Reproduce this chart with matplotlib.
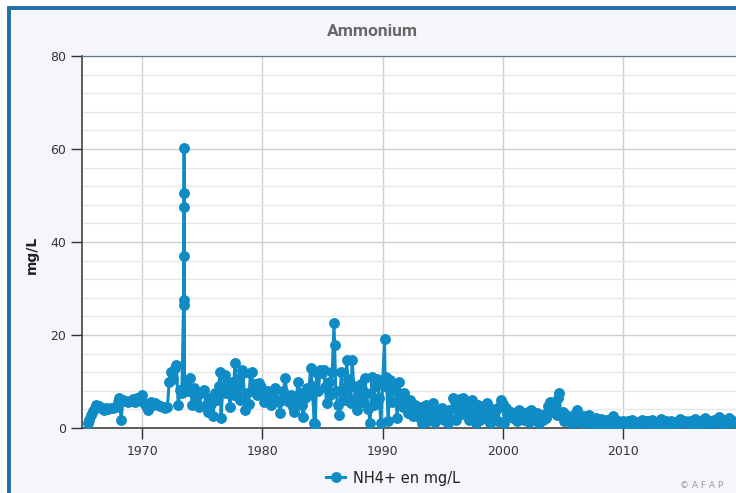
import matplotlib
matplotlib.use("Agg")
import matplotlib.pyplot as plt
from matplotlib.patches import Rectangle
from matplotlib.ticker import MultipleLocator

# NH4+ samples (decimal year, mg/L)
dates_1965 = [1965.5, 1965.6, 1965.75, 1965.9, 1966.05, 1966.2, 1966.4, 1966.6, 1966.8, 1967.0,
              1967.2, 1967.4, 1967.6, 1967.8, 1968.0, 1968.1, 1968.25, 1968.4, 1968.6, 1968.8,
              1969.0, 1969.2, 1969.4, 1969.6, 1969.8, 1970.0, 1970.15, 1970.3, 1970.5, 1970.7,
              1970.9, 1971.1, 1971.3, 1971.5, 1971.7, 1971.9, 1972.1, 1972.25, 1972.4, 1972.55,
              1972.7, 1972.85, 1973.0, 1973.15, 1973.3, 1973.44, 1973.45, 1973.46, 1973.47, 1973.48,
              1973.49, 1973.52, 1973.7, 1973.85, 1974.0, 1974.15, 1974.3, 1974.45, 1974.6, 1974.75,
              1974.9]
vals_1965 = [1.0, 1.8, 2.8, 3.6, 4.3, 5.0, 4.8, 4.2, 3.9, 4.3,
             4.1, 4.4, 4.2, 4.6, 5.5, 6.4, 1.7, 6.0, 5.9, 5.6,
             5.8, 6.2, 5.5, 6.4, 6.0, 7.1, 5.4, 4.8, 3.9, 5.6,
             5.0, 5.3, 4.9, 4.8, 4.5, 4.4, 4.6, 10.0, 12.0, 10.5,
             13.0, 13.5, 4.9, 8.2, 7.5, 26.5, 27.5, 37.0, 47.5, 50.5,
             60.2, 8.5, 9.0, 8.0, 10.8, 5.0, 8.5, 6.0, 7.8, 4.5,
             7.6]

dates_1975 = [1975.15, 1975.3, 1975.45, 1975.6, 1975.75, 1975.9, 1976.05, 1976.2, 1976.35, 1976.5,
              1976.55, 1976.7, 1976.85, 1977.0, 1977.15, 1977.3, 1977.45, 1977.6, 1977.7, 1977.85,
              1978.0, 1978.15, 1978.3, 1978.4, 1978.55, 1978.7, 1978.85, 1979.0, 1979.1, 1979.25,
              1979.4, 1979.55, 1979.7, 1979.85, 1980.0, 1980.15, 1980.3, 1980.45, 1980.6, 1980.75,
              1980.9, 1981.05, 1981.2, 1981.35, 1981.45, 1981.6, 1981.75, 1981.9, 1982.05, 1982.2,
              1982.35, 1982.5, 1982.65, 1982.8, 1982.95, 1983.1, 1983.25, 1983.4, 1983.55, 1983.7,
              1983.85, 1984.0, 1984.15, 1984.3, 1984.4, 1984.5, 1984.65, 1984.8, 1984.95]
vals_1975 = [8.2, 5.0, 3.4, 6.5, 5.2, 2.5, 7.5, 6.0, 9.0, 12.0,
             2.2, 8.0, 11.5, 7.5, 9.5, 4.5, 10.0, 7.0, 14.0, 10.5,
             8.8, 6.0, 12.5, 11.8, 3.9, 7.5, 5.2, 11.8, 12.0, 8.2,
             9.5, 7.0, 9.7, 8.8, 7.0, 5.5, 6.7, 8.0, 6.2, 5.0,
             7.5, 8.6, 6.0, 5.5, 3.2, 6.0, 8.0, 10.8, 6.4, 5.5,
             7.2, 4.5, 3.5, 6.0, 9.9, 7.5, 5.0, 2.4, 6.5, 8.5,
             7.0, 12.9, 9.0, 1.1, 0.8, 11.8, 8.0, 12.5, 11.8]

dates_1985 = [1985.1, 1985.2, 1985.35, 1985.5, 1985.65, 1985.8, 1985.95, 1986.0, 1986.1, 1986.25,
              1986.4, 1986.55, 1986.7, 1986.85, 1987.0, 1987.1, 1987.25, 1987.35, 1987.45, 1987.6,
              1987.75, 1987.9, 1988.05, 1988.2, 1988.35, 1988.5, 1988.65, 1988.8, 1988.95, 1989.1,
              1989.25, 1989.4, 1989.55, 1989.7, 1989.85, 1990.0, 1990.15, 1990.2, 1990.3, 1990.45,
              1990.6, 1990.75, 1990.9, 1991.05, 1991.2, 1991.35, 1991.5, 1991.65, 1991.8, 1991.95,
              1992.1, 1992.25, 1992.4, 1992.55, 1992.7, 1992.85, 1993.0, 1993.15, 1993.3, 1993.45,
              1993.6, 1993.75, 1993.9, 1994.05, 1994.2, 1994.35, 1994.5, 1994.65, 1994.8]
vals_1985 = [12.5, 8.8, 5.4, 10.0, 7.0, 12.0, 22.5, 17.8, 8.0, 5.0,
             2.8, 12.0, 8.0, 6.0, 14.6, 10.5, 6.0, 5.4, 14.6, 9.0,
             6.5, 3.9, 7.0, 9.5, 5.5, 10.8, 7.5, 4.0, 1.1, 11.0,
             5.0, 9.0, 10.5, 6.5, 1.1, 10.3, 19.1, 9.0, 11.0, 1.5,
             10.3, 5.5, 9.5, 8.2, 2.2, 10.0, 6.0, 4.5, 7.5, 5.4,
             3.2, 6.0, 4.5, 2.5, 5.0, 3.9, 2.4, 4.5, 1.0, 3.5,
             5.0, 1.5, 4.0, 2.5, 5.3, 1.2, 3.5, 3.9, 2.4]

dates_1995 = [1994.95, 1995.1, 1995.25, 1995.4, 1995.55, 1995.7, 1995.85, 1996.0, 1996.1, 1996.25,
              1996.4, 1996.55, 1996.7, 1996.85, 1997.0, 1997.15, 1997.3, 1997.45, 1997.6, 1997.75,
              1997.9, 1998.05, 1998.2, 1998.35, 1998.5, 1998.65, 1998.8, 1998.95, 1999.1, 1999.25,
              1999.4, 1999.55, 1999.7, 1999.85, 2000.0, 2000.1, 2000.25, 2000.4, 2000.55, 2000.7,
              2000.85, 2001.0, 2001.15, 2001.3, 2001.45, 2001.6, 2001.75, 2001.9, 2002.05, 2002.2,
              2002.35, 2002.5, 2002.65, 2002.8, 2002.95, 2003.1, 2003.3, 2003.45, 2003.6, 2003.75,
              2003.9, 2004.05, 2004.2, 2004.3, 2004.45, 2004.6, 2004.65, 2004.8, 2004.95, 2005.1,
              2005.25, 2005.4, 2005.55, 2005.7, 2005.85, 2006.0, 2006.15, 2006.3, 2006.45, 2006.6]
vals_1995 = [4.3, 1.7, 3.0, 1.0, 3.8, 2.0, 6.4, 5.5, 1.7, 4.0,
             6.2, 3.0, 6.4, 3.9, 5.5, 1.7, 4.2, 6.0, 3.5, 1.0,
             5.0, 1.7, 3.8, 4.5, 2.4, 5.4, 3.0, 1.0, 4.0, 2.5,
             3.8, 1.5, 4.5, 6.0, 5.2, 1.1, 4.3, 3.5, 2.8, 3.4,
             2.2, 3.0, 1.5, 3.9, 2.2, 3.2, 1.7, 2.5, 3.5, 1.2,
             3.9, 2.2, 1.7, 3.2, 1.0, 2.6, 1.7, 3.0, 2.2, 4.8,
             5.6, 3.5, 5.0, 4.5, 2.8, 6.5, 7.5, 3.0, 3.4, 1.5,
             2.8, 2.2, 1.2, 2.5, 1.0, 3.0, 3.9, 2.0, 1.5, 1.1]

dates_2006 = [2006.75, 2006.95, 2007.15, 2007.35, 2007.55, 2007.75, 2007.95, 2008.15, 2008.35, 2008.55,
              2008.75, 2008.95, 2009.15, 2009.35, 2009.55, 2009.75, 2009.95, 2010.15, 2010.35, 2010.55,
              2010.75, 2010.95, 2011.15, 2011.35, 2011.55, 2011.75, 2011.95, 2012.15, 2012.35, 2012.55,
              2012.75, 2012.95, 2013.15, 2013.35, 2013.55, 2013.75, 2013.95, 2014.15, 2014.35, 2014.55,
              2014.75, 2014.95, 2015.15, 2015.35, 2015.55, 2015.75, 2015.95, 2016.15, 2016.35, 2016.55,
              2016.75, 2016.95, 2017.15, 2017.35, 2017.55, 2017.75, 2017.95, 2018.15, 2018.35, 2018.55,
              2018.75, 2018.95, 2019.15, 2019.35, 2019.55]
vals_2006 = [2.5, 1.0, 2.8, 1.5, 0.6, 2.2, 1.0, 2.0, 0.8, 1.8,
             1.2, 0.6, 2.5, 1.0, 1.5, 0.7, 1.6, 1.0, 1.4, 0.8,
             1.7, 1.1, 1.3, 0.8, 1.8, 1.2, 1.5, 0.9, 1.7, 1.0,
             1.2, 0.8, 1.9, 1.1, 1.4, 0.7, 1.6, 1.0, 1.3, 0.8,
             2.0, 1.2, 1.5, 0.9, 1.6, 1.1, 2.0, 0.8, 1.4, 1.0,
             2.1, 1.1, 1.5, 0.8, 1.8, 1.2, 2.3, 1.0, 1.7, 0.9,
             2.2, 1.2, 1.6, 1.0, 1.4]

dates = dates_1965 + dates_1975 + dates_1985 + dates_1995 + dates_2006
nh4 = vals_1965 + vals_1975 + vals_1985 + vals_1995 + vals_2006

year_ticks = [1970, 1980, 1990, 2000, 2010]
series_name = "NH4+ en mg/L"
blue = "#0f8bc6"

W, H = 736, 493
fig = plt.figure(figsize=(W / 100, H / 100), dpi=100)
fig.patch.set_facecolor("white")

# light panel with the blue frame on top / left (behind the axes)
fig.patches.append(Rectangle((8.5 / W, -0.05), 1.1, 1.05 - 8.5 / H, transform=fig.transFigure,
                             facecolor="#f4f6fa", edgecolor="#1f6ea6", lw=2.8, zorder=-10))

ax = fig.add_axes([82 / W, 1 - 428 / H, (743.6 - 82) / W, (428 - 56) / H])
ax.set_zorder(1)
ax.set_facecolor("white")
ax.plot(dates, nh4, color=blue, lw=2.2, marker="o", ms=6.8, label=series_name, zorder=3)

ax.set_xlim(1965, 2020)
ax.set_ylim(0, 80)
ax.set_xticks(year_ticks)
ax.yaxis.set_major_locator(MultipleLocator(20))
ax.yaxis.set_minor_locator(MultipleLocator(4))
ax.grid(True, which="major", color="#cfcfcf", lw=1.0)
ax.grid(True, which="minor", axis="y", color="#e8e8e8", lw=1.0)
ax.set_axisbelow(True)

for s in ["left", "bottom"]:
    ax.spines[s].set_color("#333333")
    ax.spines[s].set_linewidth(1.1)
ax.spines["top"].set_color("#5a7890")
ax.spines["top"].set_linewidth(0.9)
ax.spines["right"].set_visible(False)

ax.tick_params(axis="both", which="major", length=8, width=1, color="#333333",
               labelsize=9, labelcolor="#333333")
ax.tick_params(axis="y", which="minor", length=0)
ax.tick_params(axis="x", pad=4)

fig.text(372 / W, 1 - 32 / H, "Ammonium", ha="center", va="center", fontsize=12.5,
         fontweight="bold", color="#666666", family="Roboto")
fig.text(32 / W, 1 - 255 / H, "mg/L", ha="center", va="center", rotation=90,
         fontsize=10, fontweight="bold", color="#222222")

ax.legend(loc="center", bbox_to_anchor=(393 / W, 1 - 478 / H), bbox_transform=fig.transFigure,
          frameon=False, fontsize=10.5, handlelength=1.3, handletextpad=0.5,
          labelcolor="#222222")

fig.text(680 / W, 1 - 486 / H, "\u00a9 A F A P", ha="left", va="center", fontsize=6.5,
         color="#9a9a9a")

fig.savefig("out.png", dpi=100)
